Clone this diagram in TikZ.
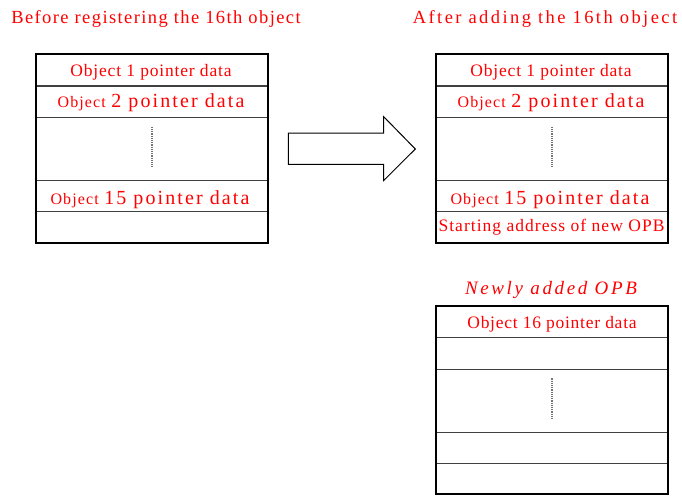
\documentclass[tikz,border=0pt]{standalone}
\usepackage{fontspec}
\setmainfont{Liberation Serif}
\newfontfamily\lsTa[LetterSpace=7.6]{Liberation Serif}
\newfontfamily\lsTb[LetterSpace=13.1]{Liberation Serif}
\newfontfamily\lsRow[LetterSpace=4.7]{Liberation Serif}
\newfontfamily\lsObj[LetterSpace=7]{Liberation Serif}
\newfontfamily\lsBig[LetterSpace=10.5]{Liberation Serif}
\newfontfamily\lsStart[LetterSpace=5.9]{Liberation Serif}
\newfontfamily\lsNew[LetterSpace=13.8]{Liberation Serif}
\newfontfamily\lsSixteen[LetterSpace=4.2]{Liberation Serif}
\definecolor{txtred}{RGB}{255,0,0}
\newcommand{\fsz}[1]{\fontsize{#1}{#1}\selectfont}
\newcommand{\bigrow}[1]{{\lsObj\fsz{16}Object}\hspace{5.5pt}{\lsBig\fsz{20}#1 pointer data}}
\begin{document}
\begin{tikzpicture}[x=1pt,y=-1pt,
  txt/.style={text=txtred,inner sep=0pt,anchor=base},
  outerbox/.style={draw=black,line width=1.8pt},
  rowline/.style={draw=black!75,line width=1.2pt},
  dots/.style={draw=black!55,line width=1.3pt,dash pattern=on 1.2pt off 1pt},
  blockarrow/.style={draw=black,line width=1pt,fill=white,line join=miter}]
\useasboundingbox (0,0) rectangle (682,495);

% titles
\node[txt] (t1) at (156,23.3) {\lsTa\fsz{18.5}Before registering the 16th object};
\node[txt] (t2) at (545,23.5) {\lsTb\fsz{18.5}After adding the 16th object};
\node[txt] (t3) at (551,294.3) {\lsNew\fsz{19}\itshape Newly added OPB};

% left box
\draw[rowline] (36,86) -- (268,86);
\draw[rowline] (36,117.3) -- (268,117.3);
\draw[rowline] (36,180.3) -- (268,180.3);
\draw[rowline] (36,211.7) -- (268,211.7);
\draw[outerbox] (36,54) rectangle (268,243.3);
\node[txt] (l1) at (151,76) {\lsRow\fsz{17.5}Object 1 pointer data};
\node[txt] (l2) at (151,107.3) {\bigrow{2}};
\node[txt] (l15) at (150,204) {\bigrow{15}};
\draw[dots] (152,126.7) -- (152,167.3);

% arrow
\draw[blockarrow] (288.3,133) -- (383.7,133) -- (383.7,116.7) -- (415.3,149)
  -- (383.7,180.5) -- (383.7,164.3) -- (288.3,164.3) -- cycle;

% right box
\draw[rowline] (436,86) -- (668,86);
\draw[rowline] (436,117.3) -- (668,117.3);
\draw[rowline] (436,180.3) -- (668,180.3);
\draw[rowline] (436,211.7) -- (668,211.7);
\draw[outerbox] (436,54) rectangle (668,243.3);
\node[txt] (r1) at (551,76) {\lsRow\fsz{17.5}Object 1 pointer data};
\node[txt] (r2) at (551,107.3) {\bigrow{2}};
\node[txt] (r15) at (550,204) {\bigrow{15}};
\node[txt] (rs) at (551.5,231.3) {\lsStart\fsz{17.5}Starting address of new OPB};
\draw[dots] (552,126.7) -- (552,167.3);

% new OPB box
\draw[rowline] (436,337.7) -- (668,337.7);
\draw[rowline] (436,369.3) -- (668,369.3);
\draw[rowline] (436,432.3) -- (668,432.3);
\draw[rowline] (436,463.3) -- (668,463.3);
\draw[outerbox] (436,306) rectangle (668,494);
\node[txt] (n16) at (552,328.5) {\lsSixteen\fsz{17.5}Object 16 pointer data};
\draw[dots] (552,378.3) -- (552,419);
\end{tikzpicture}
\end{document}
